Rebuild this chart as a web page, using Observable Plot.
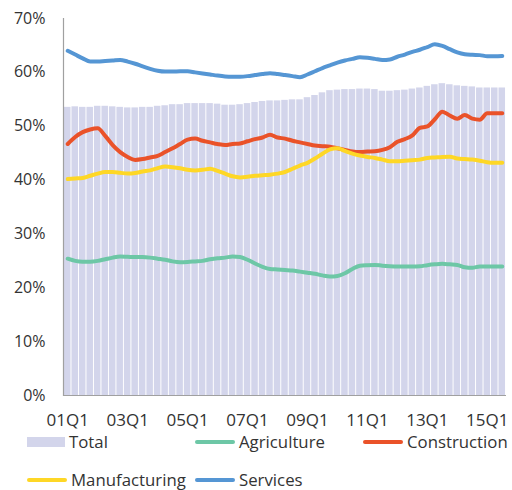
<!DOCTYPE html>
<html>
<head>
<meta charset="utf-8">
<script src="https://cdn.jsdelivr.net/npm/d3@7"></script>
<script src="https://cdn.jsdelivr.net/npm/@observablehq/plot@0.6"></script>
<style>
  body { margin: 0; background: #fff; font-family: "Open Sans", sans-serif; }
  #wrap { position: relative; width: 512px; height: 490px; }
  .leg { position: absolute; display: flex; align-items: center; font-size: 16.8px; line-height: 16px; color: #333; }
  .leg .sw { display: inline-block; margin-right: 4px; }
</style>
</head>
<body>
<div id="wrap"></div>
<script>
const years = d3.range(1, 16);
const quarters = [];
for (const y of years) for (let q = 1; q <= 4; q++) quarters.push(String(y).padStart(2, "0") + "Q" + q);
quarters.splice(59); // 01Q1 .. 15Q3

const total = [53.5,53.6,53.5,53.5,53.7,53.7,53.6,53.5,53.4,53.4,53.5,53.5,53.7,53.8,54.0,54.0,54.2,54.2,54.2,54.2,54.1,53.9,53.9,54.0,54.2,54.4,54.6,54.7,54.7,54.8,54.9,54.9,55.3,55.7,56.2,56.6,56.7,56.8,56.8,56.9,56.9,56.8,56.5,56.5,56.6,56.7,56.9,57.1,57.4,57.7,57.9,57.7,57.5,57.4,57.3,57.1,57.1,57.1,57.1];
const agriculture = [25.4,25.0,24.85,24.85,25.0,25.3,25.6,25.8,25.75,25.7,25.7,25.6,25.4,25.2,24.9,24.75,24.8,24.9,25.0,25.3,25.5,25.6,25.8,25.7,25.2,24.5,23.9,23.5,23.4,23.3,23.2,23.0,22.8,22.6,22.3,22.1,22.2,22.7,23.5,24.1,24.2,24.25,24.1,24.0,23.95,23.95,23.95,24.0,24.2,24.35,24.45,24.35,24.25,23.8,23.7,23.95,23.95,23.95,23.95];
const construction = [46.7,48.0,48.9,49.4,49.6,48.2,46.5,45.2,44.3,43.75,43.9,44.2,44.5,45.2,45.9,46.7,47.5,47.7,47.3,47.0,46.7,46.5,46.7,46.8,47.2,47.6,47.9,48.4,47.9,47.7,47.3,47.0,46.7,46.4,46.3,46.2,45.9,45.6,45.3,45.2,45.3,45.35,45.6,46.1,47.1,47.6,48.3,49.7,49.95,51.3,52.7,52.0,51.4,52.1,51.4,51.2,52.4,52.4,52.4];
const manufacturing = [40.2,40.3,40.4,40.8,41.2,41.5,41.5,41.35,41.2,41.3,41.6,41.8,42.2,42.5,42.4,42.2,41.9,41.8,41.9,42.1,41.7,41.2,40.7,40.5,40.6,40.8,40.9,41.0,41.2,41.5,42.1,42.7,43.2,44.0,44.9,45.7,45.9,45.4,44.9,44.55,44.3,44.1,43.8,43.5,43.5,43.6,43.7,43.8,44.1,44.2,44.3,44.35,44.0,43.9,43.8,43.6,43.3,43.2,43.2];
const services = [64.0,63.3,62.6,62.0,62.0,62.1,62.2,62.3,62.0,61.6,61.1,60.65,60.3,60.15,60.15,60.2,60.2,60.0,59.8,59.6,59.4,59.25,59.2,59.2,59.3,59.5,59.7,59.85,59.7,59.5,59.3,59.1,59.6,60.2,60.8,61.3,61.8,62.2,62.5,62.8,62.7,62.5,62.3,62.4,62.9,63.3,63.8,64.2,64.7,65.2,64.9,64.3,63.7,63.35,63.25,63.2,63.0,63.0,63.05];
const yTicks = [0, 10, 20, 30, 40, 50, 60, 70];
const xTickLabels = ["01Q1","03Q1","05Q1","07Q1","09Q1","11Q1","13Q1","15Q1"];

const seriesNames = ["Agriculture", "Construction", "Manufacturing", "Services"];
const seriesValues = [agriculture, construction, manufacturing, services];
const colors = {Total: "#d3d5eb", Agriculture: "#6dc7a6", Construction: "#ea5229", Manufacturing: "#fed726", Services: "#5596d4"};

const bars = quarters.map((q, i) => ({q, v: total[i]}));
const lines = seriesNames.flatMap((s, k) => quarters.map((q, i) => ({q, v: seriesValues[k][i], s})));

const chart = Plot.plot({
  width: 512,
  height: 432,
  marginTop: 18,
  marginBottom: 37,
  marginLeft: 63,
  marginRight: 6,
  style: {fontFamily: "Open Sans, sans-serif", fontSize: "16px", color: "#333", background: "#fff"},
  x: {domain: quarters, padding: 0.13, round: false, label: null},
  y: {domain: [0, 70], label: null},
  color: {domain: Object.keys(colors), range: Object.values(colors)},
  marks: [
    Plot.barY(bars, {x: "q", y: "v", fill: colors.Total}),
    Plot.line(lines, {x: "q", y: "v", z: "s", stroke: "s", strokeWidth: 4, curve: "monotone-x"}),
    Plot.ruleY([0], {stroke: "#a0a0a0", strokeWidth: 1.2}),
    Plot.frame({anchor: "left", stroke: "#a0a0a0", strokeWidth: 1.2}),
    Plot.axisY({ticks: yTicks, tickSize: 0, tickPadding: 18, tickFormat: d => d + "%", fontSize: 16}),
    Plot.axisX({ticks: xTickLabels, tickSize: 0, tickPadding: 18, fontSize: 17})
  ]
});
const wrap = document.getElementById("wrap");
wrap.appendChild(chart);

const legendItems = [
  {name: "Total", x: 27, y: 442, type: "rect"},
  {name: "Agriculture", x: 195, y: 442, type: "line"},
  {name: "Construction", x: 363, y: 442, type: "line"},
  {name: "Manufacturing", x: 27, y: 480, type: "line"},
  {name: "Services", x: 195, y: 480, type: "line"}
];
for (const it of legendItems) {
  const d = document.createElement("div");
  d.className = "leg";
  d.style.left = it.x + "px";
  d.style.top = (it.y - 8) + "px";
  d.style.height = "16px";
  const sw = document.createElement("span");
  sw.className = "sw";
  sw.style.width = (it.type === "rect" ? 38 : 40) + "px";
  sw.style.height = (it.type === "rect" ? 10 : 4) + "px";
  sw.style.borderRadius = it.type === "rect" ? "0" : "2px";
  sw.style.background = colors[it.name];
  d.appendChild(sw);
  const t = document.createElement("span");
  t.textContent = it.name;
  d.appendChild(t);
  wrap.appendChild(d);
}
</script>
</body>
</html>
